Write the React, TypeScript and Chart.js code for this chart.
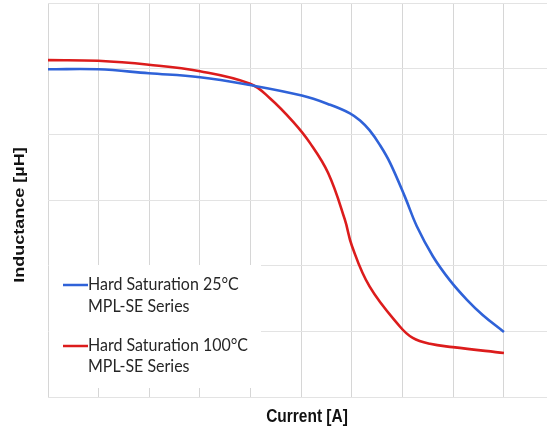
import { useEffect, useRef } from 'react';
import { Chart, registerables } from 'chart.js';

Chart.register(...registerables);

const xTitle = 'Current [A]';
const yTitle = 'Inductance [µH]';

const seriesNames = [
  ['Hard Saturation 25°C', 'MPL-SE Series'],
  ['Hard Saturation 100°C', 'MPL-SE Series'],
];
const seriesColors = ['#2f62d8', '#dc1c1c'];

const currentBlue = [0, 0.99, 1.99, 3.0, 3.99, 5.01, 5.57, 5.96, 6.16, 6.35, 6.55, 6.75, 7.05, 7.28, 7.6, 7.93, 8.27, 8.58, 9.0];
const inductanceBlue = [4.99, 4.99, 4.93, 4.87, 4.75, 4.59, 4.45, 4.32, 4.21, 4.06, 3.84, 3.57, 3.04, 2.6, 2.14, 1.78, 1.48, 1.25, 0.99];

const currentRed = [0, 0.99, 1.99, 3.0, 3.99, 4.38, 4.84, 5.17, 5.53, 5.86, 6.0, 6.35, 6.95, 7.2, 7.54, 7.99, 9.0];
const inductanceRed = [5.13, 5.12, 5.06, 4.96, 4.77, 4.55, 4.19, 3.87, 3.41, 2.7, 2.3, 1.68, 1.07, 0.9, 0.81, 0.76, 0.67];

const xGridTicks = [0, 1, 2, 3, 4, 5, 6, 7, 8, 9];

const overlayPlugin = {
  id: 'overlay',
  afterDatasetsDraw(chart: any) {
    const ctx = chart.ctx as CanvasRenderingContext2D;
    const a = chart.chartArea;
    const bx = a.left;
    const by = a.bottom - 132;
    ctx.save();
    ctx.fillStyle = '#ffffff';
    ctx.fillRect(bx + 1, by, 212, 123);
    const sx = 0.94;
    ctx.font = '17px Lato, "Open Sans", sans-serif';
    ctx.textBaseline = 'middle';
    ctx.fillStyle = '#262626';
    const rows = [
      [by + 20, by + 42],
      [by + 81, by + 102],
    ];
    seriesNames.forEach((lines, i) => {
      const [y1, y2] = rows[i];
      ctx.strokeStyle = seriesColors[i];
      ctx.lineWidth = 2.5;
      ctx.beginPath();
      ctx.moveTo(bx + 15, y1);
      ctx.lineTo(bx + 40, y1);
      ctx.stroke();
      ctx.save();
      ctx.translate(bx + 40, 0);
      ctx.scale(sx, 1);
      ctx.textAlign = 'left';
      ctx.fillText(lines[0], 0, y1);
      ctx.fillText(lines[1], 0, y2);
      ctx.restore();
    });
    ctx.restore();
  },
  afterDraw(chart: any) {
    const ctx = chart.ctx as CanvasRenderingContext2D;
    const a = chart.chartArea;
    const sx = 0.86;
    ctx.save();
    ctx.fillStyle = '#111111';
    ctx.textAlign = 'center';
    ctx.textBaseline = 'middle';
    ctx.font = 'bold 18px "Liberation Sans", Arial, sans-serif';
    ctx.save();
    ctx.translate(a.left - 28, a.top + 212);
    ctx.scale(sx, 1);
    ctx.rotate(-Math.PI / 2);
    ctx.fillText(yTitle, 0, 0);
    ctx.restore();
    ctx.save();
    ctx.translate(a.left + 259, a.bottom + 20);
    ctx.scale(sx, 1);
    ctx.fillText(xTitle, 0, 0);
    ctx.restore();
    ctx.restore();
  },
};

export default function App() {
  const ref = useRef<HTMLCanvasElement | null>(null);

  useEffect(() => {
    if (!ref.current) return;
    const chart = new Chart(ref.current, {
      type: 'line',
      data: {
        datasets: [
          {
            label: seriesNames[0].join(' '),
            data: currentBlue.map((x, i) => ({ x, y: inductanceBlue[i] })),
            borderColor: seriesColors[0],
            borderWidth: 2.6,
            pointRadius: 0,
            tension: 0.4,
            fill: false,
          },
          {
            label: seriesNames[1].join(' '),
            data: currentRed.map((x, i) => ({ x, y: inductanceRed[i] })),
            borderColor: seriesColors[1],
            borderWidth: 2.6,
            pointRadius: 0,
            tension: 0.4,
            fill: false,
          },
        ],
      },
      options: {
        responsive: false,
        animation: false,
        layout: { padding: { top: 3, right: 0, left: 0, bottom: 0 } },
        plugins: {
          legend: { display: false },
          tooltip: { enabled: false },
        },
        scales: {
          x: {
            type: 'linear',
            min: 0,
            max: 9.85,
            ticks: { display: false },
            grid: { color: '#d6d6d6', drawTicks: false, lineWidth: 1 },
            border: { display: false },
            title: { display: false },
            afterBuildTicks: (scale: any) => {
              scale.ticks = xGridTicks.map((v) => ({ value: v }));
            },
            afterFit: (scale: any) => {
              scale.height = 32;
            },
          },
          y: {
            type: 'linear',
            min: 0,
            max: 6,
            ticks: { display: false, stepSize: 1 },
            grid: { color: '#e3e3e3', drawTicks: false, lineWidth: 1 },
            border: { display: false },
            title: { display: false },
            afterFit: (scale: any) => {
              scale.width = 48;
            },
          },
        },
      },
      plugins: [overlayPlugin],
    } as any);
    return () => chart.destroy();
  }, []);

  return (
    <div style={{ position: 'fixed', left: 0, top: 0, width: 547, height: 429, background: '#fff' }}>
      <canvas ref={ref} width={547} height={429} style={{ display: 'block' }} />
    </div>
  );
}
